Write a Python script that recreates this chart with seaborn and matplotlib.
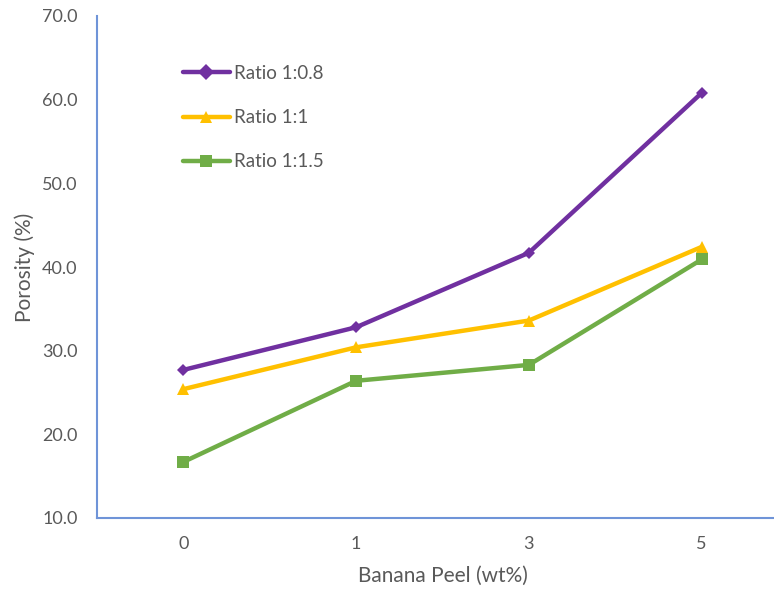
import matplotlib
matplotlib.use("Agg")
import matplotlib.pyplot as plt
import seaborn as sns
import pandas as pd

# Porosity of samples against banana peel loading, for three ratios
banana_peel = ["0", "1", "3", "5"]
ratio_labels = ["Ratio 1:0.8", "Ratio 1:1", "Ratio 1:1.5"]
porosity_08 = [27.7, 32.8, 41.7, 60.8]
porosity_10 = [25.4, 30.4, 33.6, 42.4]
porosity_15 = [16.7, 26.4, 28.3, 40.9]
y_ticks = [10, 20, 30, 40, 50, 60, 70]

colors = ["#7030A0", "#FFC000", "#70AD47"]
markers = ["D", "^", "s"]

frames = []
for label, vals in zip(ratio_labels, [porosity_08, porosity_10, porosity_15]):
    frames.append(pd.DataFrame({"peel": banana_peel, "porosity": vals, "ratio": label}))
df = pd.concat(frames, ignore_index=True)

sns.set_style("white")
plt.rcParams["font.family"] = ["Lato", "DejaVu Sans"]

fig = plt.figure(figsize=(7.74, 5.92), dpi=100)
ax = fig.add_axes([97 / 774, 1 - 518 / 592, 691 / 774, (518 - 16) / 592])

sns.lineplot(
    data=df, x="peel", y="porosity", hue="ratio", style="ratio",
    palette=colors, markers=markers, dashes=False, sort=False,
    linewidth=3.2, markersize=8, markeredgewidth=0, ax=ax,
)
# diamond slightly smaller than the others
for line in ax.lines[:1]:
    line.set_markersize(6.5)

ax.set_xlim(-0.5, 3.5)
ax.set_ylim(10, 70)
ax.set_yticks(y_ticks)
ax.set_yticklabels([f"{v:.1f}" for v in y_ticks])

text_color = "#595959"
ax.tick_params(axis="both", length=0, labelsize=13, colors=text_color)
ax.tick_params(axis="x", pad=13)
ax.tick_params(axis="y", pad=14)

for side in ["top", "right"]:
    ax.spines[side].set_visible(False)
for side in ["left", "bottom"]:
    ax.spines[side].set_color("#6F94D8")
    ax.spines[side].set_linewidth(1.5)

ax.set_xlabel("Banana Peel (wt%)", fontsize=15, color=text_color, labelpad=10)
ax.set_ylabel("Porosity (%)", fontsize=15, color=text_color, labelpad=5)

leg = ax.legend(
    loc="upper left", bbox_to_anchor=(166 / 774, 1 - 48 / 592),
    bbox_transform=fig.transFigure, frameon=False, fontsize=13.5,
    handlelength=2.5, handletextpad=0.2, labelspacing=1.45,
)
for t in leg.get_texts():
    t.set_color(text_color)

fig.savefig("out.png", dpi=100)
